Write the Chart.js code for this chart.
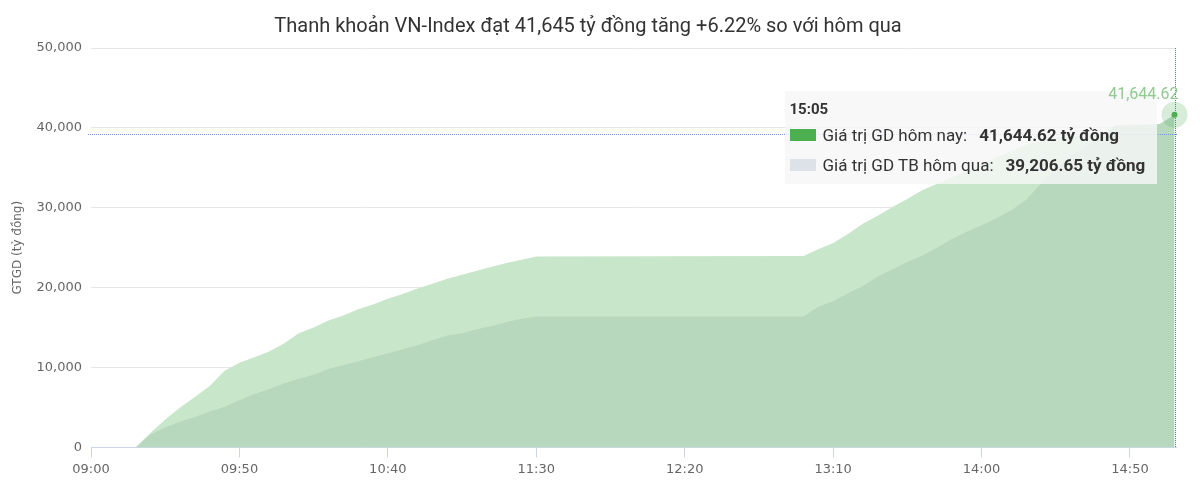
<!DOCTYPE html>
<html lang="vi">
<head>
<meta charset="utf-8">
<title>Thanh khoản VN-Index</title>
<script src="https://cdn.jsdelivr.net/npm/chart.js@4.4.1/dist/chart.umd.min.js"></script>
<style>
  html, body { margin: 0; padding: 0; background: #fff; }
  #wrap { position: relative; width: 1200px; height: 492px; }
  #tip {
    position: absolute; display: none; pointer-events: none; white-space: nowrap;
    background: rgba(247, 247, 247, 0.82);
    padding: 8px 12px 4px 5px;
    font-family: Roboto, sans-serif; font-size: 17px; color: #333;
  }
  #tip .tt { font-weight: bold; font-size: 15px; line-height: 20px; margin-bottom: 1px; }
  #tip .row { line-height: 30px; display: flex; align-items: center; }
  #tip .sw { display: inline-block; width: 26px; height: 12px; margin-right: 7px; }
  #tip b { margin-left: 12px; }
  #dl {
    position: absolute; pointer-events: none; white-space: nowrap; z-index: 2;
    font-family: Roboto, sans-serif; font-size: 16px; line-height: 18px; color: #8fca8f;
  }
</style>
</head>
<body>
<div id="wrap">
  <canvas id="chart" width="1200" height="492"></canvas>
  <div id="tip"></div>
  <div id="dl"></div>
</div>
<script>
// phút tính từ 09:00
const minutes = [15, 20, 25, 30, 35, 40, 45, 50, 55, 60, 65, 70, 75, 80, 85, 90, 95, 100,
  105, 110, 115, 120, 125, 130, 135, 140, 145, 150,
  240, 245, 250, 255, 260, 265, 270, 275, 280, 285, 290, 295, 300, 305, 310, 315,
  320, 325, 330, 335, 340, 345, 360, 365];

// Giá trị GD hôm nay (tỷ đồng)
const homNay = [0, 1600, 2500, 3200, 3800, 4500, 5100, 5900, 6700, 7300, 8000, 8600, 9100, 9800,
  10300, 10800, 11300, 11800, 12300, 12800, 13400, 14000, 14300, 14800, 15200, 15700, 16100, 16400,
  16400, 17600, 18300, 19300, 20200, 21400, 22300, 23200, 24000, 25000, 26100, 27000, 27800,
  28700, 29700, 31000, 33000, 34900, 36500, 37700, 38900, 40300, 40500, 41644.62];

// Giá trị GD TB hôm qua (tỷ đồng)
const homQua = [0, 1800, 3500, 5000, 6300, 7700, 9600, 10600, 11300, 12000, 13000, 14300, 15000, 15900,
  16500, 17300, 17900, 18600, 19200, 19900, 20500, 21100, 21600, 22100, 22600, 23100, 23500, 23900,
  23950, 24800, 25600, 26700, 28000, 29000, 30100, 31100, 32200, 33000, 33800, 34600, 35400,
  36300, 37100, 37900, 38500, 38800, 38950, 39050, 39150, 39206.65, 39206.65, 39206.65];

const xTicks = [0, 50, 100, 150, 200, 250, 300, 350];
const yTicks = [0, 10000, 20000, 30000, 40000, 50000];
const seriesNames = ['Giá trị GD hôm nay', 'Giá trị GD TB hôm qua'];
const last = minutes.length - 1;

function fmtTime(m) {
  const h = 9 + Math.floor(m / 60);
  const mm = Math.round(m % 60);
  return String(h).padStart(2, '0') + ':' + String(mm).padStart(2, '0');
}
function fmtNum(v, d) {
  return v.toLocaleString('en-US', { minimumFractionDigits: d, maximumFractionDigits: d });
}

// vẽ đường crosshair, điểm đang chọn và nhãn giá trị
const hoverMark = {
  id: 'hoverMark',
  afterDatasetsDraw(chart) {
    const ctx = chart.ctx;
    const { top, bottom, left, right } = chart.chartArea;
    const pt = chart.getDatasetMeta(0).data[last];
    const yQua = Math.round(chart.scales.y.getPixelForValue(homQua[last])) + 0.5;
    const xPt = Math.round(pt.x) + 0.5;
    ctx.save();
    ctx.lineWidth = 1;
    ctx.setLineDash([1, 1]);
    ctx.strokeStyle = '#6f9fd6';
    ctx.beginPath();
    ctx.moveTo(left - 3, yQua);
    ctx.lineTo(right + 2, yQua);
    ctx.stroke();
    ctx.strokeStyle = '#58779a';
    ctx.beginPath();
    ctx.moveTo(xPt, top);
    ctx.lineTo(xPt, bottom);
    ctx.stroke();
    ctx.setLineDash([]);

    ctx.fillStyle = 'rgba(76, 175, 80, 0.22)';
    ctx.beginPath();
    ctx.arc(pt.x, pt.y, 13, 0, Math.PI * 2);
    ctx.fill();
    ctx.fillStyle = '#4caf50';
    ctx.beginPath();
    ctx.arc(pt.x, pt.y, 3, 0, Math.PI * 2);
    ctx.fill();
    ctx.restore();

    // nhãn giá trị nằm trên tooltip
    const dl = document.getElementById('dl');
    dl.textContent = fmtNum(homNay[last], 2);
    dl.style.right = (chart.width - pt.x - 4) + 'px';
    dl.style.top = (pt.y - 30) + 'px';
  }
};

function externalTip(context) {
  const tip = document.getElementById('tip');
  const t = context.tooltip;
  if (t.opacity === 0 || !t.dataPoints || !t.dataPoints.length) {
    tip.style.display = 'none';
    return;
  }
  const i = t.dataPoints[0].dataIndex;
  const el = t.dataPoints[0].element;
  tip.innerHTML =
    '<div class="tt">' + fmtTime(minutes[i]) + '</div>' +
    '<div class="row"><span class="sw" style="background:#4caf50"></span>' + seriesNames[0] + ':' +
    '<b>' + fmtNum(homNay[i], 2) + ' tỷ đồng</b></div>' +
    '<div class="row"><span class="sw" style="background:#dde1e8"></span>' + seriesNames[1] + ':' +
    '<b>' + fmtNum(homQua[i], 2) + ' tỷ đồng</b></div>';
  tip.style.display = 'block';
  tip.style.left = (el.x - 390) + 'px';
  tip.style.top = (el.y - 24) + 'px';
}

const ctx = document.getElementById('chart').getContext('2d');
const chart = new Chart(ctx, {
  type: 'line',
  data: {
    datasets: [
      {
        label: seriesNames[0],
        data: minutes.map((m, i) => ({ x: m, y: homNay[i] })),
        backgroundColor: 'rgb(184, 216, 190)',
        borderWidth: 0,
        pointRadius: 0,
        fill: 'origin'
      },
      {
        label: seriesNames[1],
        data: minutes.map((m, i) => ({ x: m, y: homQua[i] })),
        backgroundColor: 'rgb(200, 230, 201)',
        borderWidth: 0,
        pointRadius: 0,
        fill: 'origin'
      }
    ]
  },
  options: {
    responsive: false,
    animation: false,
    events: [],
    layout: { padding: { left: 0, right: 24, top: 0, bottom: 11 } },
    elements: { line: { tension: 0 } },
    plugins: {
      legend: { display: false },
      title: {
        display: true,
        text: 'Thanh khoản VN-Index đạt 41,645 tỷ đồng tăng +6.22% so với hôm qua',
        color: '#333',
        font: { family: 'Roboto', size: 20, weight: 'normal' },
        padding: { top: 15, bottom: 9 }
      },
      tooltip: {
        enabled: false,
        mode: 'index',
        intersect: false,
        external: externalTip
      }
    },
    scales: {
      x: {
        type: 'linear',
        min: 0,
        max: 365.5,
        afterBuildTicks: (s) => { s.ticks = xTicks.map(v => ({ value: v })); },
        ticks: {
          autoSkip: false,
          maxRotation: 0,
          padding: 4,
          color: '#666',
          font: { family: 'DejaVu Sans', size: 13 },
          callback: (v) => fmtTime(v)
        },
        grid: { drawOnChartArea: false, drawTicks: true, tickLength: 10, color: '#ccd6eb' },
        border: { color: '#ccd6eb', width: 1 }
      },
      y: {
        min: 0,
        max: 50000,
        afterBuildTicks: (s) => { s.ticks = yTicks.map(v => ({ value: v })); },
        afterFit: (s) => { s.width = 91; },
        ticks: {
          padding: 9,
          color: '#666',
          font: { family: 'DejaVu Sans', size: 13 },
          callback: (v) => fmtNum(v, 0)
        },
        grid: { color: '#e6e6e6', drawTicks: false },
        border: { display: false },
        title: {
          display: true,
          text: 'GTGD (tỷ đồng)',
          color: '#666',
          font: { family: 'DejaVu Sans', size: 12 },
          padding: { top: 11, bottom: 0 }
        }
      }
    }
  },
  plugins: [hoverMark]
});

chart.tooltip.setActiveElements(
  [{ datasetIndex: 0, index: last }, { datasetIndex: 1, index: last }],
  { x: 0, y: 0 }
);
chart.update('none');
</script>
</body>
</html>
